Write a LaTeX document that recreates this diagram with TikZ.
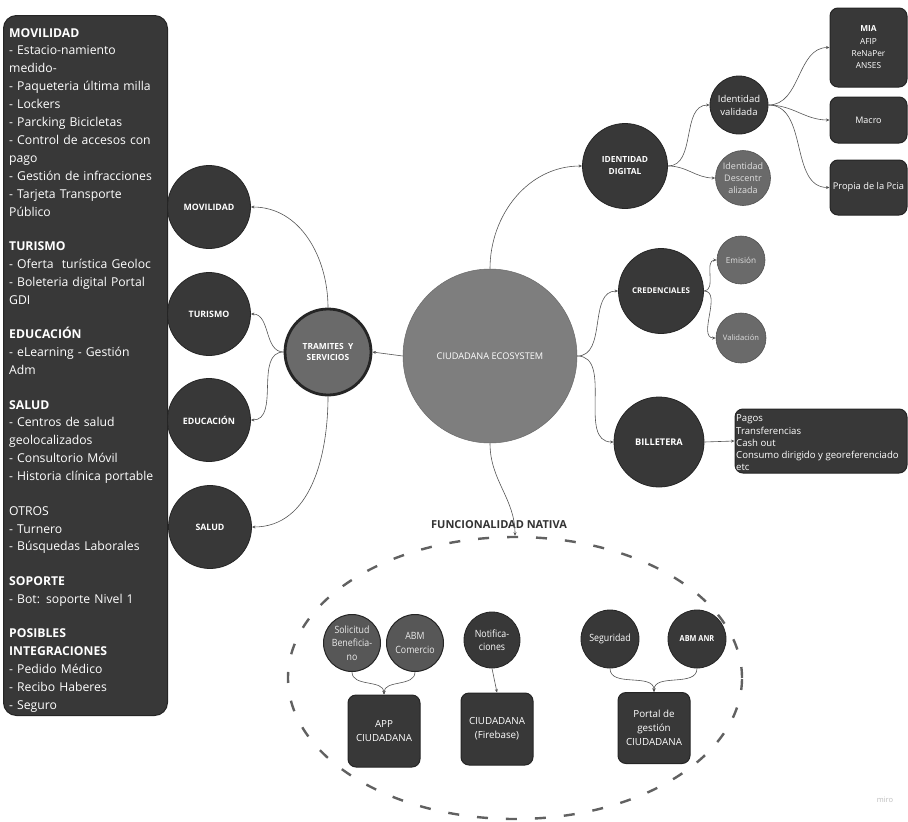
\documentclass[tikz,border=0pt]{standalone}
\usepackage{fontspec}
\setmainfont{Open Sans}
\newfontfamily\cnd{Open Sans}[FakeStretch=0.88]
\usetikzlibrary{arrows.meta,shapes.geometric}
\definecolor{dk}{HTML}{383838}
\definecolor{dkb}{HTML}{252525}
\definecolor{md}{HTML}{6a6a6a}
\definecolor{eco}{HTML}{7e7e7e}
\definecolor{ln}{HTML}{555555}
\tikzset{
  conn/.style={draw=ln, line width=0.6pt, -{Stealth[length=3.5pt,width=3pt]}},
  dkc/.style={circle, fill=dk, draw=dkb, line width=0.8pt, text=white, inner sep=0pt, align=center},
  mdc/.style={circle, fill=md, draw=dkb!80, line width=0.6pt, text=white!88!black, inner sep=0pt, align=center},
  dkbox/.style={rectangle, rounded corners=8pt, fill=dk, draw=dkb, line width=1pt, text=white, inner sep=1pt, align=center},
  capf/.style={font=\bfseries\fontsize{8.8}{10.5}\selectfont},
  smf/.style={font=\fontsize{9}{12}\selectfont},
  botf/.style={font=\cnd\fontsize{10}{13.5}\selectfont},
  boxf/.style={font=\fontsize{9.8}{14}\selectfont},
}
\begin{document}
\begin{tikzpicture}[x=1pt,y=-1pt]
\useasboundingbox (0,0) rectangle (908,822);
\fill[white] (0,0) rectangle (908,822);

% left panel
\node[rectangle, rounded corners=13pt, fill=dk, draw=dkb, line width=1pt, minimum width=164, minimum height=700, anchor=north west, inner sep=0pt] (panel) at (3,15) {};
\node[anchor=north west, inner sep=0pt, text width=200pt, align=left, text=white, font=\fontsize{12.2}{17.9}\selectfont] (paneltext) at (9,28) {%
\textbf{MOVILIDAD}\\
- Estacio-namiento\\
medido-\\
- Paqueteria última milla\\
- Lockers\\
- Parcking Bicicletas\\
- Control de accesos con\\
pago\\
- Gestión de infracciones\\
- Tarjeta Transporte\\
Público\\[16.6pt]
\textbf{TURISMO}\\
- Oferta\ \ turística Geoloc\\
- Boleteria digital Portal\\
GDI\\[16.6pt]
\textbf{EDUCACIÓN}\\
- eLearning - Gestión\\
Adm\\[16.6pt]
\textbf{SALUD}\\
- Centros de salud\\
geolocalizados\\
- Consultorio Móvil\\
- Historia clínica portable\\[16.6pt]
OTROS\\
- Turnero\\
- Búsquedas Laborales\\[16.6pt]
\textbf{SOPORTE}\\
- Bot: soporte Nivel 1\\[16.6pt]
\textbf{POSIBLES}\\
\textbf{INTEGRACIONES}\\
- Pedido Médico\\
- Recibo Haberes\\
- Seguro};

% category circles
\node[dkc, capf, minimum size=83] (mov) at (209,207) {MOVILIDAD};
\node[dkc, capf, minimum size=83] (tur) at (209,314) {TURISMO};
\node[dkc, capf, minimum size=83] (edu) at (209,420) {EDUCACIÓN};
\node[dkc, capf, minimum size=83] (sal) at (210,527) {SALUD};

\node[circle, fill=md, draw=dkb, line width=2.8pt, text=white, inner sep=0pt, align=center, font=\bfseries\fontsize{8.4}{11}\selectfont, minimum size=86] (tram) at (328,352) {TRAMITES\ \ Y\\SERVICIOS};

\node[circle, fill=eco, draw=eco!85!black, line width=0.5pt, text=white, inner sep=0pt, font=\fontsize{9.2}{11}\selectfont, minimum size=174] (eco) at (490,356) {CIUDADANA ECOSYSTEM};

% identity
\node[dkc, font=\bfseries\fontsize{8.4}{12}\selectfont, minimum size=85] (idd) at (625,166) {IDENTIDAD\\DIGITAL};
\node[dkc, font=\fontsize{9.5}{13}\selectfont, minimum size=58] (idv) at (739,105) {Identidad\\validada};
\node[mdc, font=\fontsize{9}{12}\selectfont, minimum size=55] (idc) at (743,178) {Identidad\\Descentr\\alizada};
\node[dkbox, font=\fontsize{8.3}{12.3}\selectfont, minimum width=77, minimum height=79] (mia) at (868.5,47.5) {\textbf{MIA}\\AFIP\\ReNaPer\\ANSES};
\node[dkbox, smf, minimum width=77, minimum height=46] (mac) at (868.5,120) {Macro};
\node[dkbox, font=\fontsize{9.3}{12}\selectfont, minimum width=77, minimum height=55] (pro) at (868.5,187.5) {Propia de la Pcia};

% credenciales & billetera
\node[dkc, font=\bfseries\fontsize{7.9}{10}\selectfont, minimum size=85] (cred) at (661,291) {CREDENCIALES};
\node[mdc, font=\fontsize{8.2}{10}\selectfont, minimum size=48] (emi) at (741,260) {Emisión};
\node[mdc, font=\fontsize{7.6}{10}\selectfont, minimum size=50] (val) at (741,338) {Validación};
\node[dkc, font=\bfseries\fontsize{9.2}{11}\selectfont, minimum size=90] (bil) at (659,442) {BILLETERA};
\node[rectangle, rounded corners=8pt, fill=dk, draw=dkb, line width=1pt, text=white, minimum width=172, minimum height=64, inner sep=0pt] (bbox) at (821,441) {};
\node[anchor=west, inner sep=0pt, text=white, align=left, font=\fontsize{9.6}{12.3}\selectfont] (btext) at (736,443) {Pagos\\Transferencias\\Cash out\\Consumo dirigido y georeferenciado\\etc};

% funcionalidad nativa
\node[ellipse, draw=black!62, line width=2.4pt, dash pattern=on 11pt off 18pt, minimum width=454, minimum height=282, inner sep=0pt] (nat) at (515,678) {};
\node[font=\bfseries\fontsize{11}{13}\selectfont, text=black!80] (natlab) at (499,525) {FUNCIONALIDAD NATIVA};

\node[mdc, fill=black!66, draw=dkb, line width=1pt, text=white!92!black, botf, minimum size=57] (sol) at (352,643) {Solicitud\\Beneficia-\\no};
\node[mdc, fill=black!66, draw=dkb, line width=1pt, text=white!92!black, botf, minimum size=57] (abm) at (415,643) {ABM\\Comercio};
\node[dkc, botf, minimum size=56] (noti) at (492,640) {Notifica-\\ciones};
\node[dkc, botf, minimum size=58] (seg) at (610,639) {Seguridad};
\node[dkc, font=\bfseries\cnd\fontsize{8.3}{10}\selectfont, minimum size=58] (anr) at (697,639) {ABM ANR};
\node[dkbox, boxf, minimum width=72, minimum height=72] (app) at (384,731) {APP\\CIUDADANA};
\node[dkbox, boxf, minimum width=72, minimum height=72] (fire) at (497,729) {CIUDADANA\\(Firebase)};
\node[dkbox, boxf, minimum width=72, minimum height=71] (portal) at (654,728) {Portal de\\gestión\\CIUDADANA};

\node[font=\fontsize{7.5}{9}\selectfont, text=black!25] (miro) at (885,800) {miro};

% connectors
\draw[conn] (tram.north) to[out=90,in=0] (mov.east);
\draw[conn] (tram.west) to[out=180,in=0] (tur.east);
\draw[conn] (tram.west) to[out=180,in=0] (edu.east);
\draw[conn] (tram.south) to[out=270,in=0] (sal.east);
\draw[conn] (eco.west) -- (tram.east);
\draw[conn] (eco.north) to[out=90,in=180] (idd.west);
\draw[conn] (eco.east) to[out=0,in=180] (cred.west);
\draw[conn] (eco.east) to[out=0,in=180] (bil.west);
\draw[conn] (eco.south) to[out=270,in=90] (nat.north);
\draw[conn] (bil.east) -- (bbox.west);
\draw[conn] (cred.east) to[out=0,in=180] (emi.west);
\draw[conn] (cred.east) to[out=0,in=180] (val.west);
\draw[conn] (idd.east) to[out=0,in=180] (idv.west);
\draw[conn] (idd.east) to[out=0,in=180] (idc.west);
\draw[conn] (idv.east) to[out=0,in=180] (mia.west);
\draw[conn] (idv.east) to[out=0,in=180] (mac.west);
\draw[conn] (idv.east) to[out=0,in=180] (pro.west);
\draw[conn] (sol.south) to[out=270,in=90] (app.north);
\draw[conn] (abm.south) to[out=270,in=90] (app.north);
\draw[conn] (noti.south) -- (fire.north);
\draw[conn] (seg.south) to[out=270,in=90] (portal.north);
\draw[conn] (anr.south) to[out=270,in=90] (portal.north);
\end{tikzpicture}
\end{document}
